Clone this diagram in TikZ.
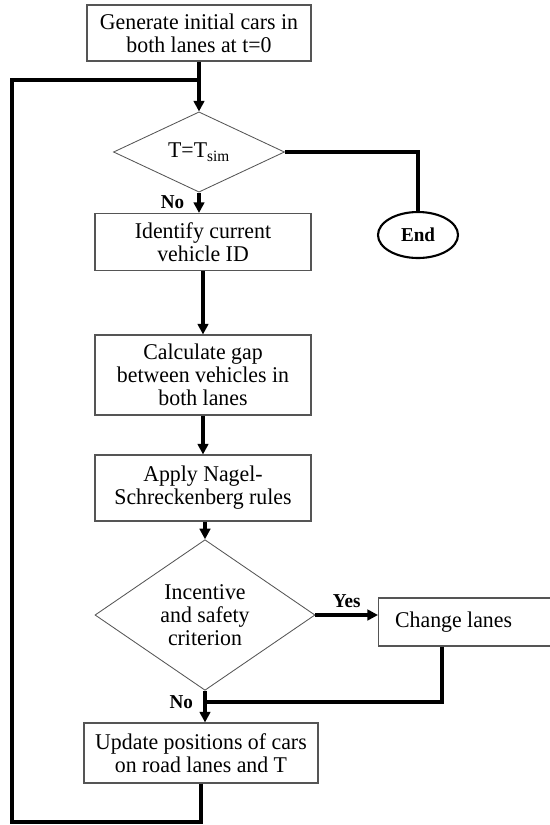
\documentclass[tikz,border=0pt]{standalone}
\usepackage{fontspec}
\setmainfont{Liberation Serif}[FakeStretch=0.97]
\usepackage{tikz}
\usetikzlibrary{arrows.meta, positioning, shapes.geometric, calc}
\definecolor{boxline}{HTML}{555555}

\begin{document}
\begin{tikzpicture}[x=0.025cm, y=-0.025cm,
    stepbox/.style={draw=boxline, line width=0.8pt, align=center, inner sep=2pt,
                    font=\fontsize{16}{16.5}\selectfont},
    decision/.style={diamond, draw=boxline, line width=0.6pt, align=center, inner sep=0pt,
                     font=\fontsize{16}{16.5}\selectfont},
    flow/.style={line width=2.3pt},
    flowarrow/.style={flow, -{Triangle[length=7.5pt, width=7.5pt]}},
    tag/.style={font=\fontsize{14}{15}\selectfont\bfseries},
]
    \useasboundingbox (0,0) rectangle (549,825);

    % Start
    \node[stepbox, minimum width=5.6cm, minimum height=1.4cm] (gen) at (199,33)
        {Generate initial cars in\\both lanes at t=0};

    % First decision
    \node[decision, minimum width=4.275cm, minimum height=2cm] (sim) at (199,152)
        {T=T\textsubscript{sim}};
    \node[ellipse, draw, line width=1.5pt, minimum width=2cm, minimum height=1.15cm,
          tag] (stop) at (418,235) {End};

    % Main steps
    \node[stepbox, minimum width=5.4cm, minimum height=1.425cm] (ident) at (203,242)
        {Identify current\\vehicle ID};
    \node[stepbox, minimum width=5.4cm, minimum height=2cm] (gap) at (203,375)
        {Calculate gap\\between vehicles in\\both lanes};
    \node[stepbox, minimum width=5.4cm, minimum height=1.65cm] (nasch) at (203,488)
        {Apply Nagel-\\Schreckenberg rules};

    % Lane change decision
    \node[decision, minimum width=5.5cm, minimum height=3.75cm] (crit) at (205,615)
        {Incentive\\and safety\\criterion};
    \node[stepbox, minimum width=4.4cm, minimum height=1.2cm, anchor=west] (chg) at (378,622)
        {Change lanes\hspace*{0.65cm}};
    \node[stepbox, minimum width=5.85cm, minimum height=1.5cm] (upd) at (201,753)
        {Update positions of cars\\on road lanes and T};

    % Connectors
    \coordinate (merge) at (199,80);
    \coordinate (corner) at (12,822);
    \coordinate (join) at (205,702);
    \coordinate (drop) at (442,0);

    \draw[flowarrow] (gen.south) -- (sim.north);
    \draw[flow] (sim.east) -| (stop.north);
    \draw[flowarrow] (sim.south) -- node[tag, left=6pt, pos=0.45] {No} (ident.north -| sim.south);
    \draw[flowarrow] (ident.south) -- (gap.north);
    \draw[flowarrow] (gap.south) -- (nasch.north);
    \draw[flowarrow] (nasch.south -| crit.north) -- (crit.north);
    \draw[flowarrow] (crit.east) -- node[tag, above=1pt] {Yes} (crit.east -| chg.west);
    \draw[flowarrow] (crit.south) -- (upd.north -| crit.south);
    \node[tag, left=5pt] (nolbl) at (join) {No};
    \draw[flow] (chg.south -| drop) |- (join);
    \draw[flow] (upd.south) |- (corner) |- (merge);
\end{tikzpicture}
\end{document}
